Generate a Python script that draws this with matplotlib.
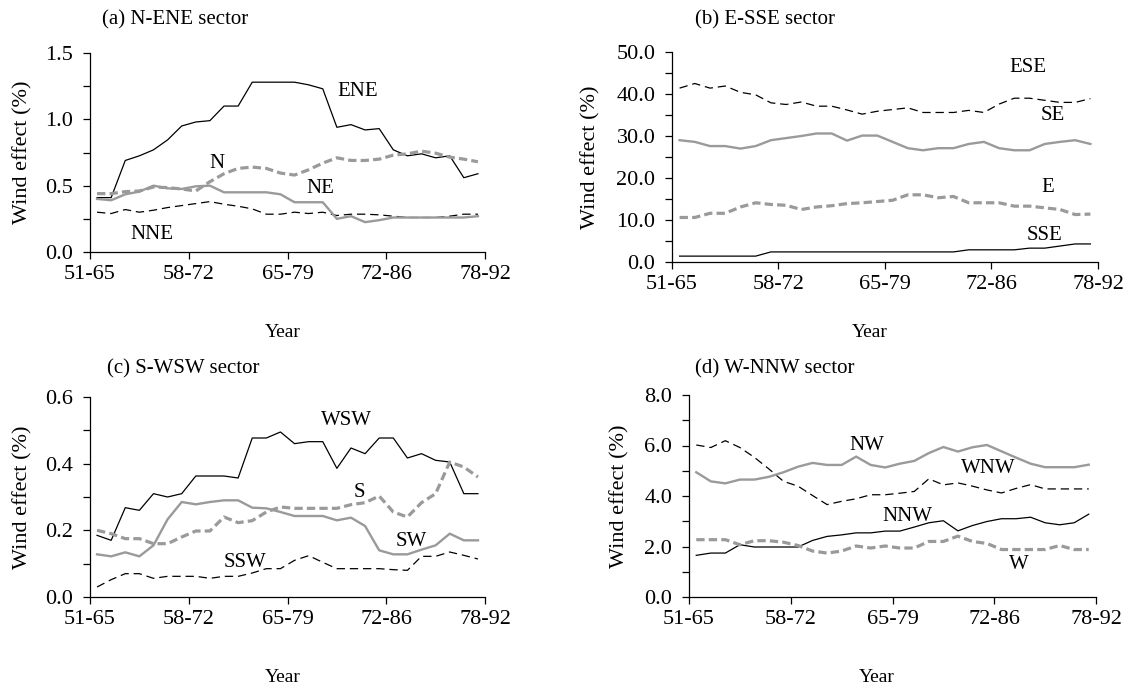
import matplotlib
matplotlib.use("Agg")
import matplotlib.pyplot as plt
from matplotlib.ticker import MultipleLocator, FormatStrFormatter

plt.rcParams["font.family"] = ["Liberation Serif", "DejaVu Serif"]
plt.rcParams["lines.scale_dashes"] = False

# 15-year moving windows, 1951-65 ... 1978-92 (28 windows)
periods = ["51-65", "58-72", "65-79", "72-86", "78-92"]
n_win = 28
x = list(range(n_win))

# (a) N-ENE sector
ENE = [0.41, 0.41, 0.69, 0.725, 0.77, 0.845, 0.95, 0.98, 0.99, 1.10, 1.10, 1.28, 1.28, 1.28,
       1.28, 1.26, 1.23, 0.94, 0.96, 0.92, 0.93, 0.77, 0.725, 0.74, 0.71, 0.725, 0.56, 0.59]
NNE = [0.30, 0.29, 0.32, 0.30, 0.315, 0.335, 0.35, 0.365, 0.38, 0.36, 0.345, 0.325, 0.285, 0.285,
       0.30, 0.29, 0.30, 0.275, 0.285, 0.285, 0.28, 0.27, 0.26, 0.26, 0.26, 0.27, 0.285, 0.285]
NE = [0.40, 0.39, 0.435, 0.455, 0.50, 0.48, 0.475, 0.495, 0.50, 0.45, 0.45, 0.45, 0.45, 0.435,
      0.375, 0.375, 0.375, 0.25, 0.27, 0.225, 0.24, 0.26, 0.26, 0.26, 0.26, 0.26, 0.26, 0.27]
N = [0.44, 0.44, 0.455, 0.46, 0.49, 0.485, 0.475, 0.46, 0.53, 0.59, 0.63, 0.64, 0.63, 0.595,
     0.58, 0.62, 0.67, 0.71, 0.69, 0.69, 0.70, 0.73, 0.74, 0.76, 0.745, 0.715, 0.70, 0.68]

# (b) E-SSE sector
SSE = [1.4, 1.4, 1.4, 1.4, 1.4, 1.4, 2.4, 2.4, 2.4, 2.4, 2.4, 2.4, 2.4, 2.4,
       2.4, 2.4, 2.4, 2.4, 2.4, 2.9, 2.9, 2.9, 2.9, 3.3, 3.3, 3.8, 4.3, 4.3]
ESE = [41.4, 42.5, 41.4, 41.9, 40.4, 39.8, 37.9, 37.5, 38.1, 37.1, 37.1, 36.2, 35.2, 35.9,
       36.3, 36.7, 35.6, 35.6, 35.6, 36.1, 35.6, 37.6, 39.0, 39.0, 38.5, 38.0, 38.0, 38.9]
SE = [29.0, 28.6, 27.6, 27.6, 27.0, 27.6, 29.0, 29.5, 30.0, 30.6, 30.6, 28.9, 30.1, 30.1,
      28.6, 27.1, 26.6, 27.1, 27.1, 28.1, 28.6, 27.1, 26.6, 26.6, 28.1, 28.6, 29.0, 28.1]
E = [10.6, 10.6, 11.6, 11.6, 13.1, 14.1, 13.7, 13.5, 12.5, 13.1, 13.4, 13.9, 14.1, 14.4,
     14.7, 16.0, 16.0, 15.3, 15.6, 14.1, 14.1, 14.1, 13.3, 13.3, 12.9, 12.5, 11.3, 11.4]

# (c) S-WSW sector
WSW = [0.185, 0.17, 0.268, 0.26, 0.31, 0.30, 0.31, 0.363, 0.363, 0.363, 0.357, 0.477, 0.477, 0.495,
       0.46, 0.466, 0.466, 0.386, 0.447, 0.43, 0.477, 0.477, 0.417, 0.43, 0.41, 0.405, 0.31, 0.31]
SSW = [0.03, 0.052, 0.07, 0.07, 0.056, 0.062, 0.062, 0.062, 0.056, 0.062, 0.062, 0.072, 0.085, 0.085,
       0.11, 0.124, 0.104, 0.085, 0.085, 0.085, 0.085, 0.082, 0.08, 0.122, 0.122, 0.135, 0.125, 0.114]
SW = [0.128, 0.122, 0.134, 0.122, 0.155, 0.233, 0.285, 0.278, 0.285, 0.29, 0.29, 0.268, 0.266, 0.255,
      0.243, 0.243, 0.243, 0.23, 0.238, 0.213, 0.14, 0.128, 0.128, 0.142, 0.155, 0.19, 0.17, 0.17]
S = [0.20, 0.19, 0.175, 0.175, 0.16, 0.16, 0.18, 0.198, 0.198, 0.24, 0.223, 0.229, 0.255, 0.27,
     0.266, 0.266, 0.266, 0.266, 0.277, 0.283, 0.303, 0.255, 0.24, 0.283, 0.31, 0.405, 0.39, 0.36]

# (d) W-NNW sector
NNW = [1.65, 1.74, 1.74, 2.07, 1.98, 1.98, 1.98, 1.98, 2.24, 2.4, 2.46, 2.54, 2.54, 2.61,
       2.61, 2.77, 2.94, 3.02, 2.62, 2.83, 2.99, 3.1, 3.1, 3.16, 2.94, 2.86, 2.94, 3.28]
WNW = [6.02, 5.92, 6.19, 5.92, 5.53, 5.07, 4.58, 4.39, 4.02, 3.66, 3.79, 3.89, 4.05, 4.05,
       4.11, 4.18, 4.68, 4.44, 4.52, 4.39, 4.24, 4.12, 4.3, 4.45, 4.28, 4.28, 4.28, 4.28]
NW = [4.94, 4.58, 4.5, 4.65, 4.65, 4.76, 4.94, 5.16, 5.31, 5.23, 5.23, 5.56, 5.23, 5.13,
      5.28, 5.39, 5.7, 5.94, 5.76, 5.93, 6.02, 5.77, 5.52, 5.28, 5.14, 5.14, 5.14, 5.24]
W = [2.27, 2.27, 2.27, 2.07, 2.23, 2.23, 2.17, 2.04, 1.82, 1.74, 1.82, 2.02, 1.94, 2.02,
     1.94, 1.94, 2.2, 2.2, 2.41, 2.2, 2.12, 1.88, 1.88, 1.88, 1.88, 2.04, 1.88, 1.88]

GRAY = "#9a9a9a"
black_solid = dict(color="black", lw=0.9)
black_dash = dict(color="black", lw=0.9, dashes=(6, 3.5))
gray_solid = dict(color=GRAY, lw=1.7)
gray_dash = dict(color=GRAY, lw=2.3, dashes=(6, 3))

FIG_W, FIG_H = 1145, 691
fig = plt.figure(figsize=(FIG_W / 100, FIG_H / 100), dpi=100)


def px_axes(left, right, top, bottom):
    """Add axes given pixel edges of the plot area."""
    return fig.add_axes([left / FIG_W, 1 - bottom / FIG_H,
                         (right - left) / FIG_W, (bottom - top) / FIG_H])


def px_text(px, py, s, **kw):
    fig.text(px / FIG_W, 1 - py / FIG_H, s, **kw)


def style_axes(ax, ymax, major, minor):
    ax.set_xlim(-0.5, n_win - 0.5)
    ax.set_ylim(0, ymax)
    ax.set_xticks([-0.5, 6.5, 13.5, 20.5, 27.5])
    ax.set_xticklabels(periods)
    ax.yaxis.set_major_locator(MultipleLocator(major))
    ax.yaxis.set_minor_locator(MultipleLocator(minor))
    ax.yaxis.set_major_formatter(FormatStrFormatter("%.1f"))
    for side in ("top", "right"):
        ax.spines[side].set_visible(False)
    for side in ("left", "bottom"):
        ax.spines[side].set_linewidth(0.9)
    ax.tick_params(axis="both", which="both", direction="out", length=5, width=0.9)
    ax.tick_params(axis="y", which="major", labelsize=16, pad=7)
    ax.tick_params(axis="x", which="major", labelsize=16, pad=4)
    ax.patch.set_alpha(0)


panels = [
    # axes pixel box, title, title pos, ylabel x, xlabel pos, limits, series, labels
    dict(box=(90, 485, 53, 252), title="(a) N-ENE sector", tpos=(102, 20),
         ylx=23, xlpos=(283, 332), ylim=(1.5, 0.5, 0.25),
         lines=[(ENE, black_solid), (NNE, black_dash), (NE, gray_solid), (N, gray_dash)],
         labels=[("ENE", 18.5, 1.21), ("N", 8.5, 0.67), ("NE", 15.8, 0.48), ("NNE", 3.9, 0.13)]),
    dict(box=(672, 1098, 52, 262), title="(b) E-SSE sector", tpos=(695, 20),
         ylx=591, xlpos=(870, 332), ylim=(50.0, 10.0, 5.0),
         lines=[(SSE, black_solid), (ESE, black_dash), (SE, gray_solid), (E, gray_dash)],
         labels=[("ESE", 22.9, 46.2), ("SE", 24.5, 34.9), ("E", 24.2, 17.8), ("SSE", 24.0, 6.3)]),
    dict(box=(90, 485, 397, 597), title="(c) S-WSW sector", tpos=(107, 369),
         ylx=23, xlpos=(283, 678), ylim=(0.6, 0.2, 0.1),
         lines=[(WSW, black_solid), (SSW, black_dash), (SW, gray_solid), (S, gray_dash)],
         labels=[("WSW", 17.7, 0.529), ("S", 18.6, 0.313), ("SW", 22.3, 0.167), ("SSW", 10.5, 0.104)]),
    dict(box=(689, 1096, 395, 597), title="(d) W-NNW sector", tpos=(695, 369),
         ylx=620, xlpos=(877, 678), ylim=(8.0, 2.0, 1.0),
         lines=[(NNW, black_solid), (WNW, black_dash), (NW, gray_solid), (W, gray_dash)],
         labels=[("NW", 11.7, 6.0), ("WNW", 20.1, 5.07), ("NNW", 14.5, 3.2), ("W", 22.2, 1.28)]),
]

for p in panels:
    ax = px_axes(*p["box"])
    for values, style in p["lines"]:
        ax.plot(x, values, **style)
    ymax, major, minor = p["ylim"]
    style_axes(ax, ymax, major, minor)
    for name, lx, ly in p["labels"]:
        ax.text(lx, ly, name, fontsize=15, ha="center", va="center")

    left, right, top, bottom = p["box"]
    px_text(p["tpos"][0], p["tpos"][1], p["title"], fontsize=15, ha="left", va="center")
    px_text(p["ylx"], (top + bottom) / 2, "Wind effect (%)", fontsize=16,
            rotation=90, ha="center", va="center")
    px_text(p["xlpos"][0], p["xlpos"][1], "Year", fontsize=14, ha="center", va="center")

fig.savefig("out.png", dpi=100)
